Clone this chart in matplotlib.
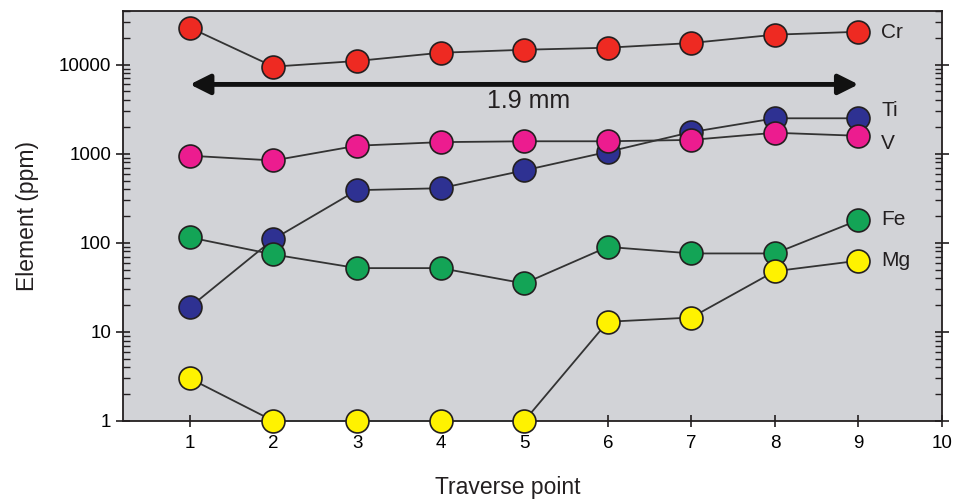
import numpy as np
import matplotlib.pyplot as plt
from matplotlib.ticker import LogLocator, NullFormatter, FixedLocator

plt.rcParams['font.family'] = ['Liberation Sans', 'DejaVu Sans']

# Gegevens (ppm per meetpunt)
points = [1, 2, 3, 4, 5, 6, 7, 8, 9]
cr = [26000, 9500, 11000, 13600, 14700, 15500, 17500, 21700, 23400]
ti = [19, 110, 390, 410, 650, 1050, 1750, 2500, 2500]
v = [950, 840, 1230, 1350, 1380, 1380, 1430, 1720, 1590]
fe = [115, 74, 52, 52, 35, 90, 76, 76, 180]
mg = [3.0, 1, 1, 1, 1, 13, 14.5, 48, 63]

names = ['Cr', 'Ti', 'V', 'Fe', 'Mg']
colors = ['#ee2a22', '#2e3192', '#ec1c8f', '#13a456', '#fff200']
label_y = [22700, 3040, 1300, 183, 63]

fig = plt.figure(figsize=(9.56, 5.01), dpi=100)
ax = fig.add_axes([0.1287, 0.1597, 0.8567, 0.8183])
ax.set_facecolor('#d2d3d7')

for name, vals, col, ylab in zip(names, [cr, ti, v, fe, mg], colors, label_y):
    ax.plot(points, vals, color='#333333', lw=1.3, marker='o', ms=16.5,
            mfc=col, mec='#231f20', mew=1.2, clip_on=False, zorder=3)
    ax.text(9.27, ylab, name, fontsize=15, va='center', ha='left', color='#231f20')

# Pijl 1.9 mm
ax.annotate('', xy=(9.0, 6000), xytext=(1.0, 6000),
            arrowprops=dict(arrowstyle='<|-|>', color='#111111', lw=3.5,
                            mutation_scale=30, shrinkA=0, shrinkB=0))
ax.text(5.05, 3900, '1.9 mm', fontsize=18, ha='center', va='center', color='#231f20')

ax.set_yscale('log')
ax.set_xlim(0.2, 10)
ax.set_ylim(1, 40000)
ax.set_xticks(range(1, 11))
ax.yaxis.set_major_locator(FixedLocator([1, 10, 100, 1000, 10000]))
ax.set_yticklabels(['1', '10', '100', '1000', '10000'])
ax.yaxis.set_minor_locator(LogLocator(base=10, subs=np.arange(2, 10)))
ax.yaxis.set_minor_formatter(NullFormatter())
ax.tick_params(axis='y', which='major', direction='inout', length=10, width=1.2,
               labelsize=13.5, right=True, color='#231f20')
ax.tick_params(axis='y', which='minor', direction='in', length=5, width=1,
               right=True, color='#231f20')
ax.tick_params(axis='x', which='major', direction='inout', length=8, width=1.2,
               labelsize=13.5, pad=6, color='#231f20')
for s in ax.spines.values():
    s.set_linewidth(1.3)
    s.set_color('#231f20')

ax.set_xlabel('Traverse point', fontsize=16.5, color='#231f20')
ax.xaxis.set_label_coords(0.47, -0.135)
ax.set_ylabel('Element (ppm)', fontsize=16.5, labelpad=14, color='#231f20')

fig.savefig('out.png', dpi=100)
